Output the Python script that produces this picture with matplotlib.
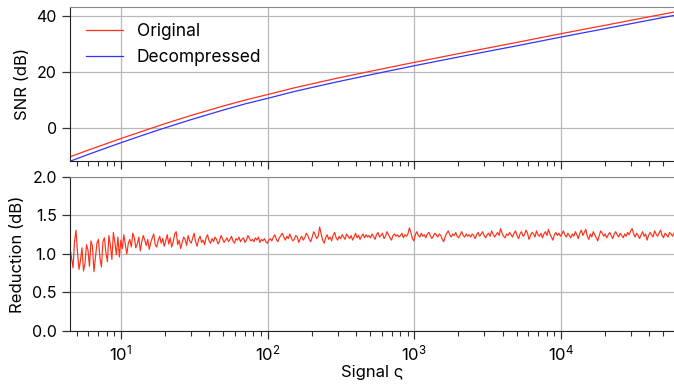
import matplotlib
matplotlib.use("Agg")
import matplotlib.pyplot as plt
import numpy as np
from matplotlib.ticker import LogLocator, NullFormatter

# --- Data ---
# SNR curves, sampled at a handful of signal levels
snr_signal = [4.5, 6, 8, 10, 15, 20, 30, 40, 50, 70, 100, 150, 200, 300, 500,
              1000, 2000, 5000, 1e4, 2e4, 5.9e4]
snr_original = [-10.2, -7.8, -5.5, -3.7, -0.6, 1.6, 4.5, 6.4, 7.9, 9.95, 11.95,
                14.25, 15.75, 17.8, 20.2, 23.4, 26.5, 30.5, 33.6, 36.6, 41.3]
snr_decompressed = [-11.8, -9.35, -7.0, -5.2, -2.05, 0.1, 3.0, 4.95, 6.45, 8.6,
                    10.6, 12.95, 14.45, 16.5, 18.95, 22.2, 25.3, 29.3, 32.4,
                    35.4, 40.1]

# SNR reduction (dB), evenly spaced in log(signal) from 4.5 to 5.9e4
reduction = [
    # 4.5 .. 10
    1.08, 0.95, 0.82, 1.16, 1.31, 1.02, 0.80, 0.92, 1.08, 0.78, 0.88, 1.12,
    1.05, 0.84, 1.17, 1.10, 0.77, 0.96, 1.14, 1.19, 0.95, 0.83, 1.16, 1.21,
    1.02, 0.90, 1.24, 1.11, 0.93, 1.28, 1.15, 0.99, 1.22, 0.96,
    # 10 .. 20
    1.18, 1.07, 1.25, 1.12, 1.00, 1.14, 1.19, 1.09, 1.27, 1.21, 1.08, 1.13,
    1.22, 1.04, 1.16, 1.24, 1.18, 1.11, 1.19, 1.06, 1.15, 1.21, 1.26, 1.12,
    1.09, 1.18, 1.23, 1.14, 1.20, 1.10, 1.17, 1.25, 1.13,
    # 20 .. 100
    1.21, 1.09, 1.16, 1.26, 1.29, 1.12, 1.18, 1.07, 1.15, 1.22, 1.19, 1.11,
    1.24, 1.17, 1.14, 1.20, 1.27, 1.16, 1.10, 1.19, 1.23, 1.15, 1.18, 1.12,
    1.21, 1.25, 1.17, 1.14, 1.20, 1.16, 1.22, 1.19, 1.13, 1.17, 1.24, 1.20,
    1.15, 1.18, 1.21, 1.16, 1.19, 1.23, 1.17, 1.14, 1.20, 1.18, 1.22, 1.16,
    1.19, 1.21, 1.15, 1.18, 1.24, 1.20, 1.17, 1.19, 1.16, 1.21, 1.18, 1.22,
    1.15, 1.19, 1.17, 1.20, 1.16, 1.14, 1.18,
    # 100 .. 500
    1.20, 1.17, 1.22, 1.25, 1.19, 1.16, 1.21, 1.24, 1.27, 1.22, 1.18, 1.23,
    1.20, 1.26, 1.21, 1.17, 1.19, 1.24, 1.22, 1.15, 1.20, 1.23, 1.18, 1.21,
    1.27, 1.24, 1.19, 1.16, 1.22, 1.29, 1.25, 1.20, 1.23, 1.35, 1.26, 1.18,
    1.14, 1.21, 1.25, 1.19, 1.22, 1.17, 1.24, 1.28, 1.21, 1.18, 1.23, 1.20,
    1.25, 1.22, 1.19, 1.26, 1.23, 1.20, 1.24, 1.18, 1.22, 1.27, 1.21, 1.24,
    1.19, 1.23, 1.26, 1.21, 1.25, 1.22, 1.24,
    # 500 .. 2500
    1.21, 1.26, 1.23, 1.19, 1.25, 1.28, 1.22, 1.24, 1.27, 1.20, 1.23, 1.29,
    1.25, 1.21, 1.18, 1.24, 1.26, 1.23, 1.25, 1.22, 1.24, 1.27, 1.21, 1.25,
    1.23, 1.26, 1.34, 1.28, 1.20, 1.17, 1.25, 1.29, 1.24, 1.22, 1.27, 1.23,
    1.25, 1.21, 1.26, 1.28, 1.24, 1.20, 1.23, 1.27, 1.25, 1.22, 1.26, 1.24,
    1.19, 1.16, 1.23, 1.27, 1.30, 1.25, 1.22, 1.26, 1.24, 1.28, 1.23, 1.21,
    1.25, 1.29, 1.24, 1.22, 1.26, 1.23, 1.25,
    # 2500 .. 12000
    1.22, 1.26, 1.24, 1.20, 1.25, 1.28, 1.23, 1.26, 1.29, 1.24, 1.21, 1.25,
    1.27, 1.23, 1.30, 1.26, 1.22, 1.25, 1.28, 1.24, 1.33, 1.27, 1.23, 1.21,
    1.26, 1.24, 1.28, 1.25, 1.22, 1.27, 1.30, 1.24, 1.20, 1.26, 1.29, 1.23,
    1.25, 1.31, 1.27, 1.19, 1.24, 1.28, 1.26, 1.22, 1.30, 1.25, 1.23, 1.27,
    1.21, 1.26, 1.29, 1.24, 1.32, 1.26, 1.22, 1.18, 1.25, 1.28, 1.24, 1.27,
    1.23, 1.26, 1.30, 1.25, 1.22, 1.27, 1.24,
    # 12000 .. 59000
    1.21, 1.26, 1.23, 1.29, 1.25, 1.20, 1.27, 1.31, 1.24, 1.28, 1.32, 1.23,
    1.19, 1.26, 1.22, 1.29, 1.25, 1.21, 1.17, 1.24, 1.30, 1.27, 1.23, 1.26,
    1.21, 1.25, 1.28, 1.24, 1.20, 1.26, 1.29, 1.25, 1.22, 1.27, 1.24, 1.21,
    1.26, 1.23, 1.28, 1.25, 1.30, 1.33, 1.26, 1.22, 1.27, 1.24, 1.20, 1.25,
    1.29, 1.23, 1.26, 1.18, 1.24, 1.28, 1.25, 1.22, 1.30, 1.26, 1.23, 1.27,
    1.31, 1.24, 1.21, 1.27, 1.25, 1.22, 1.28, 1.26, 1.23, 1.27,
]
reduction_signal = np.geomspace(4.5, 5.9e4, len(reduction))

# --- Style ---
plt.rcParams['font.family'] = ['Inter', 'DejaVu Sans']
plt.rcParams['mathtext.fontset'] = 'cm'
plt.rcParams['font.size'] = 10

red = '#ff3019'
blue = '#3333ff'

fig = plt.figure(figsize=(6.74, 3.85), dpi=100)
ax1 = fig.add_axes([0.1039, 0.5818, 0.8961, 0.4])
ax2 = fig.add_axes([0.1039, 0.1403, 0.8961, 0.4], sharex=ax1)

# --- Top: SNR ---
ax1.plot(snr_signal, snr_original, color=red, lw=0.9, label='Original')
ax1.plot(snr_signal, snr_decompressed, color=blue, lw=0.9, label='Decompressed')
ax1.set_ylim(-11.7, 43.1)
ax1.set_yticks([0, 20, 40])
ax1.set_ylabel('SNR (dB)', fontsize=12, labelpad=5)
ax1.legend(loc='upper left', frameon=False, fontsize=12.5, handlelength=2.15,
           handletextpad=0.8, labelspacing=0.55, borderaxespad=0.5)
ax1.tick_params(axis='x', which='both', labelbottom=False)

# --- Bottom: reduction ---
ax2.plot(reduction_signal, reduction, color=red, lw=0.85)
ax2.set_ylim(0, 2)
ax2.set_yticks([0, 0.5, 1.0, 1.5, 2.0])
ax2.set_yticklabels(['0.0', '0.5', '1.0', '1.5', '2.0'])
ax2.set_ylabel('Reduction (dB)', fontsize=12, labelpad=5)
ax2.set_xlabel('Signal ς', fontsize=12, labelpad=1)

ax2.set_xscale('log')
ax2.set_xlim(4.5, 5.9e4)
ax2.xaxis.set_major_locator(LogLocator(base=10))
ax2.xaxis.set_minor_locator(LogLocator(base=10, subs=np.arange(2, 10)))
ax2.xaxis.set_minor_formatter(NullFormatter())

for ax in (ax1, ax2):
    ax.grid(True, which='major', color='#b8b8b8', lw=0.9)
    ax.set_axisbelow(True)
    ax.spines['right'].set_visible(False)
    ax.spines['top'].set_color('#888888')
    ax.spines['left'].set_color('#222222')
    ax.spines['bottom'].set_color('#222222')
    ax.tick_params(which='major', length=5.5, width=0.9, color='#333333')
    ax.tick_params(which='minor', length=3.5, width=0.8, color='#333333')
    ax.tick_params(axis='x', labelsize=12)
    ax.tick_params(axis='y', labelsize=11.5, pad=4)

fig.savefig('out.png', dpi=100)
